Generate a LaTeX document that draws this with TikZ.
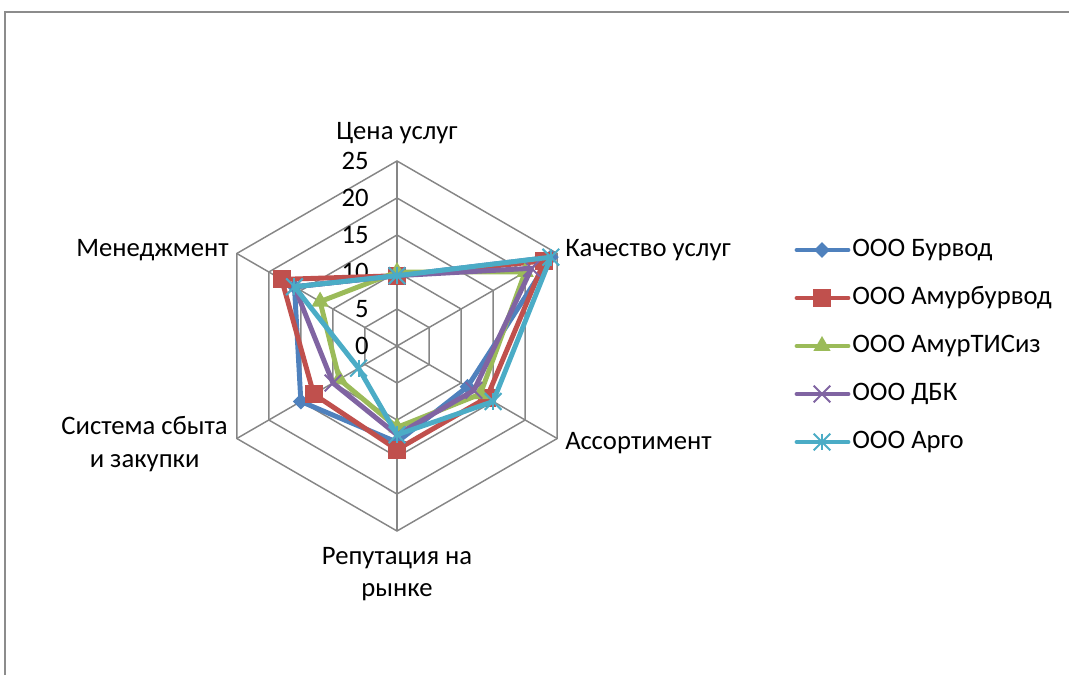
\documentclass[tikz,border=0pt]{standalone}
\usepackage{fontspec}
\setmainfont{Carlito}
\usetikzlibrary{shapes.geometric,shapes.misc}

\definecolor{bur}{HTML}{4F81BD}
\definecolor{amb}{HTML}{C0504D}
\definecolor{amt}{HTML}{9BBB59}
\definecolor{dbk}{HTML}{8064A2}
\definecolor{argo}{HTML}{4BACC6}
\definecolor{gridgray}{HTML}{868686}

\begin{document}
\begin{tikzpicture}[x=0.75pt,y=0.75pt,
  grid/.style={draw=gridgray,line width=1.1pt},
  ser/.style={draw=#1,line width=3.7pt,line join=round,line cap=round},
  lbl/.style={font=\fontsize{20}{24.5}\selectfont,inner sep=0pt},
  mkdia/.style={diamond,fill=bur,inner sep=0pt,minimum size=12pt},
  mksq/.style={rectangle,fill=amb,inner sep=0pt,minimum size=13.5pt},
  mktri/.style={regular polygon,regular polygon sides=3,fill=amt,inner sep=0pt,minimum size=15pt},
  mkx/.style={cross out,draw=dbk,line width=1.5pt,inner sep=0pt,minimum size=11pt},
  mkast/.style={cross out,draw=argo,line width=1.5pt,inner sep=0pt,minimum size=11pt,
    append after command={(\tikzlastnode.north) edge[draw=argo,line width=1.5pt] (\tikzlastnode.south)}}]
  \useasboundingbox (0,0) rectangle (1069,675);
  \draw[gridgray!95,line width=1.2pt] (5,0) -- (5,663) -- (1069,663);

  % radar grid, 5 units = 37px
  \begin{scope}[shift={(397,329)}]
    \foreach \r in {1,...,5}
      \draw[grid] (90:\r*37) -- (30:\r*37) -- (-30:\r*37) -- (-90:\r*37)
        -- (-150:\r*37) -- (150:\r*37) -- cycle;
    \foreach \a in {90,30,-30,-90,-150,150}
      \draw[grid] (0,0) -- (\a:185);
    \foreach \v in {0,5,...,25}
      \node[lbl,anchor=east] (tk\v) at (-28,\v*7.4) {\v};

    % series
    \foreach \s/\col/\mk/\vals in {b/bur/mkdia/{9.5,24,11,13,15,16},
        r/amb/mksq/{9.5,23,14,14,13,18},
        g/amt/mktri/{10,20,13,11,9,12},
        p/dbk/mkx/{9.5,21,12,12,10,16},
        c/argo/mkast/{9.5,24,15,12,6,16}}{
      \foreach \v [count=\i] in \vals
        \coordinate (\s\i) at (150-60*\i:\v*7.4);
      \draw[ser=\col] (\s1) -- (\s2) -- (\s3) -- (\s4) -- (\s5) -- (\s6) -- cycle;
      \foreach \i in {1,...,6}
        \node[\mk] (m\s\i) at (\s\i) {};
    }
  \end{scope}

  % axis labels
  \node[lbl] (cena) at (397,542) {Цена услуг};
  \node[lbl,anchor=west] (kach) at (565,425) {Качество услуг};
  \node[lbl,anchor=west] (assort) at (565,232) {Ассортимент};
  \node[lbl,align=center] (rep) at (397,101) {Репутация на\\рынке};
  \node[lbl,align=center,anchor=east] (sist) at (228,231) {Система сбыта\\и закупки};
  \node[lbl,anchor=east] (men) at (229,425) {Менеджмент};

  % legend
  \foreach \col/\mk/\nm [count=\i] in {bur/mkdia/Бурвод,amb/mksq/Амурбурвод,
      amt/mktri/АмурТИСиз,dbk/mkx/ДБК,argo/mkast/Арго}{
    \coordinate (la\i) at (797,473-48*\i);
    \coordinate (lb\i) at (848,473-48*\i);
    \draw[ser=\col] (la\i) -- (lb\i);
    \node[\mk] (lm\i) at (822,473-48*\i) {};
    \node[lbl,anchor=west] (lt\i) at (852,473-48*\i) {ООО \nm};
  }
\end{tikzpicture}
\end{document}
